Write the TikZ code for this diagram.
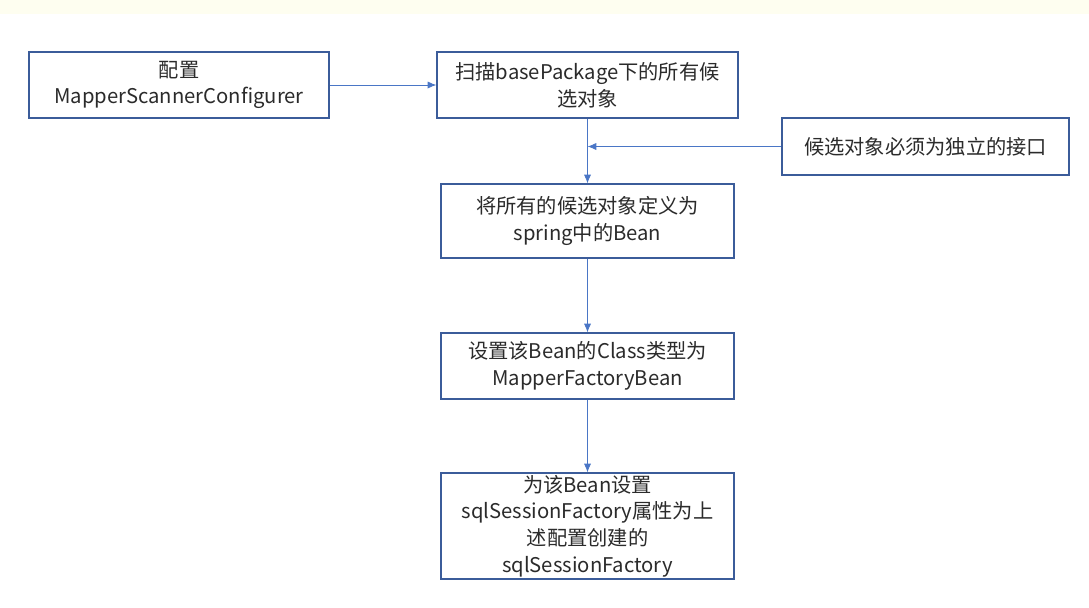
\documentclass[tikz,border=0pt]{standalone}
\usepackage{fontspec}
\setmainfont{Noto Sans CJK SC}
\usetikzlibrary{arrows.meta,calc,positioning}

\definecolor{boxblue}{HTML}{3B5C9A}
\definecolor{lineblue}{HTML}{4A76C6}
\definecolor{textgray}{HTML}{2B2B2B}
\definecolor{bandyellow}{HTML}{FEFEF0}

\tikzset{
  stepbox/.style={draw=boxblue, line width=0.8pt, fill=white, text=textgray,
    align=center, inner sep=0pt, font=\fontsize{14.4pt}{19pt}\selectfont},
  flow/.style={draw=lineblue, line width=0.6pt, -{Latex[length=2.2mm,width=1.8mm]}}
}

\begin{document}
\begin{tikzpicture}[x=0.025cm,y=-0.025cm]
  \useasboundingbox (0,0) rectangle (1089,607);
  \fill[bandyellow] (0,0) rectangle (1089,14);
  \node[stepbox, minimum width=7.5cm, minimum height=1.65cm] (config) at (179,85){配置\\MapperScannerConfigurer};
  \node[stepbox, minimum width=7.525cm, minimum height=1.65cm] (scan) at (587.5,85){扫描basePackage下的所有候\\选对象};
  \node[stepbox, minimum width=7.175cm, minimum height=1.425cm] (iface) at (925.5,146.5){候选对象必须为独立的接口};
  \node[stepbox, minimum width=7.325cm, minimum height=1.85cm] (define) at (587.5,221){将所有的候选对象定义为\\spring中的Bean};
  \node[stepbox, minimum width=7.325cm, minimum height=1.65cm] (classtype) at (587.5,366){设置该Bean的Class类型为\\MapperFactoryBean};
  \node[stepbox, minimum width=7.325cm, minimum height=2.65cm] (factory) at (587.5,526){为该Bean设置\\sqlSessionFactory属性为上\\述配置创建的\\sqlSessionFactory};
  \coordinate (join) at (scan.south |- iface.west);
  \draw[flow] (config) -- (scan);
  \draw[flow] (scan) -- (define);
  \draw[flow] (iface) -- (join);
  \draw[flow] (define) -- (classtype);
  \draw[flow] (classtype) -- (factory);
\end{tikzpicture}
\end{document}
